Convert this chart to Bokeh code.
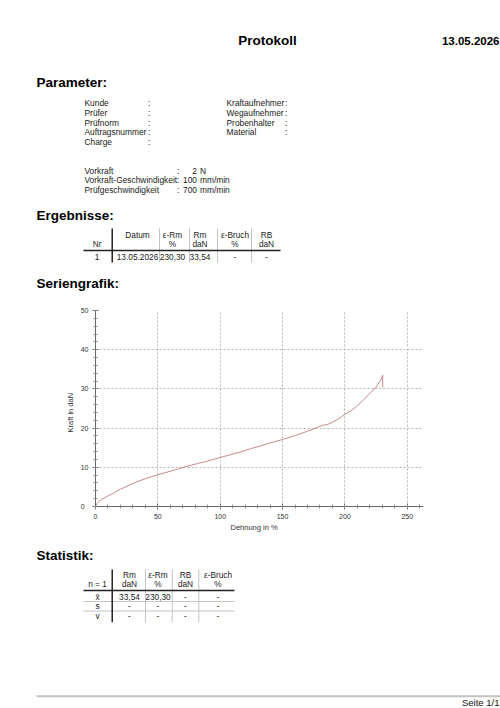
from bokeh.plotting import figure
from bokeh.layouts import column
from bokeh.models import Range1d, SingleIntervalTicker, Title
from bokeh.core.properties import value
from bokeh.embed import file_html
from bokeh.resources import INLINE

# ---------------- data ----------------
report_title = "Protokoll"
report_date = "13.05.2026"
section_titles = ["Parameter:", "Ergebnisse:", "Seriengrafik:", "Statistik:"]
param_left = ["Kunde", "Prüfer", "Prüfnorm", "Auftragsnummer", "Charge"]
param_right = ["Kraftaufnehmer", "Wegaufnehmer", "Probenhalter", "Material"]
setting_names = ["Vorkraft", "Vorkraft-Geschwindigkeit", "Prüfgeschwindigkeit"]
setting_numbers = ["2", "100", "700"]
setting_units = ["N", "mm/min", "mm/min"]

result_head1 = ["", "Datum", "ε-Rm", "Rm", "ε-Bruch", "RB"]
result_head2 = ["Nr", "", "%", "daN", "%", "daN"]
result_row = ["1", "13.05.2026", "230,30", "33,54", "-", "-"]

stat_head1 = ["", "Rm", "ε-Rm", "RB", "ε-Bruch"]
stat_head2 = ["n = 1", "daN", "%", "daN", "%"]
stat_rows = [
    ["x\u0304", "33,54", "230,30", "-", "-"],
    ["s", "-", "-", "-", "-"],
    ["v", "-", "-", "-", "-"],
]
footer_text = "Seite 1/1"

# curve: Dehnung in % vs Kraft in daN
strain = [0, 1, 2.5, 5, 10, 15, 20, 30, 40, 50, 60, 75, 90, 100, 115, 125, 140,
          150, 160, 170, 178, 183, 186, 190, 195, 200, 205, 210, 215, 218, 222,
          224.5, 227, 229, 230.3, 230.3]
force = [0, 0.7, 1.2, 1.8, 2.7, 3.5, 4.4, 5.9, 7.1, 8.1, 9.0, 10.4, 11.6, 12.5,
         13.8, 14.8, 16.2, 17.1, 18.1, 19.2, 20.2, 20.8, 20.9, 21.5, 22.4, 23.5,
         24.5, 25.7, 27.2, 28.2, 29.5, 30.3, 31.4, 32.5, 33.54, 30.4]
x_max = 263
y_max = 50
x_tick_step = 50
y_tick_step = 10
x_title = "Dehnung in %"
y_title = "Kraft in daN"

FONT = value("Liberation Sans")
W = 500


def page_fig(top, bottom):
    p = figure(width=W, height=bottom - top, x_range=Range1d(0, W),
               y_range=Range1d(bottom, top), x_axis_type=None, y_axis_type=None,
               output_backend="svg", toolbar_location=None, min_border=0,
               frame_align=False)
    p.outline_line_color = None
    p.grid.visible = False
    return p


def txt(p, xs, ys, texts, size, align="left", bold=False, color="#1a1a1a"):
    p.text(x=xs, y=ys, text=texts, text_font=FONT, text_font_size=f"{size}px",
           text_align=align, text_baseline="middle",
           text_font_style="bold" if bold else "normal", text_color=color)


# ---------------- header part ----------------
pa = page_fig(0, 296)
txt(pa, [267], [40], [report_title], 13.5, "center", True, "#000")
txt(pa, [499], [40.5], [report_date], 11.5, "right", True, "#000")
txt(pa, [36], [81.5], [section_titles[0]], 13.5, "left", True, "#000")

row0, dy = 102.5, 9.75
ys_l = [row0 + i * dy for i in range(len(param_left))]
txt(pa, [84] * len(param_left), ys_l, param_left, 8.4)
txt(pa, [147.5] * len(param_left), ys_l, [":"] * len(param_left), 8.4)
ys_r = [row0 + i * dy for i in range(len(param_right))]
txt(pa, [226] * len(param_right), ys_r, param_right, 8.4)
txt(pa, [284.5] * len(param_right), ys_r, [":"] * len(param_right), 8.4)

ys_s = [170, 179.7, 189.4]
txt(pa, [84] * 3, ys_s, setting_names, 8.4)
txt(pa, [176.5] * 3, ys_s, [":"] * 3, 8.4)
txt(pa, [196.5] * 3, ys_s, setting_numbers, 8.4, "right")
txt(pa, [199.5] * 3, ys_s, setting_units, 8.4)

txt(pa, [36], [214.5], [section_titles[1]], 13.5, "left", True, "#000")
res_cx = [96.6, 137, 172, 199.5, 234.5, 266]
txt(pa, res_cx, [234] * 6, result_head1, 8.3, "center")
txt(pa, res_cx, [243.5] * 6, result_head2, 8.3, "center")
txt(pa, res_cx, [256.7] * 6, result_row, 8.3, "center")
pa.segment(x0=[159, 189, 217, 251], x1=[159, 189, 217, 251], y0=[228] * 4,
           y1=[262] * 4, line_color="#c4c4c4", line_width=1)
pa.segment(x0=[111.7], x1=[111.7], y0=[228], y1=[262], line_color="#000",
           line_width=1.3)
pa.segment(x0=[83], x1=[280], y0=[250], y1=[250], line_color="#222",
           line_width=1.6)
txt(pa, [36], [283], [section_titles[2]], 13.5, "left", True, "#000")

# ---------------- chart ----------------
pb = figure(width=W, height=244, x_range=Range1d(0, x_max),
            y_range=Range1d(0, y_max), output_backend="svg",
            toolbar_location=None, min_border_left=95, min_border_right=77,
            min_border_top=14, min_border_bottom=34, frame_align=False)
pb.outline_line_color = None
pb.line(strain, force, line_color="#c48a8a", line_width=1)
pb.xaxis.ticker = SingleIntervalTicker(interval=x_tick_step, num_minor_ticks=5)
pb.yaxis.ticker = SingleIntervalTicker(interval=y_tick_step, num_minor_ticks=5)
pb.yaxis.major_label_overrides = {0: "0\u2007"}
for ax in (pb.xaxis, pb.yaxis):
    ax.axis_line_color = "#666"
    ax.major_tick_line_color = "#666"
    ax.minor_tick_line_color = "#888"
    ax.major_tick_in = 3
    ax.major_tick_out = 3
    ax.minor_tick_in = 2
    ax.minor_tick_out = 2
    ax.major_label_text_font = "Liberation Sans"
    ax.major_label_text_font_size = "7px"
    ax.major_label_text_color = "#333"
    ax.major_label_standoff = 4
pb.grid.grid_line_color = "#b4b4b4"
pb.grid.grid_line_dash = "2 2"
pb.grid.grid_line_width = 1
pb.add_layout(Title(text=x_title, align="left", offset=135, standoff=2,
                    vertical_align="top", text_font="Liberation Sans",
                    text_font_size="7.5px", text_font_style="normal",
                    text_color="#333"), "below")
pb.add_layout(Title(text=y_title, align="left", offset=74, standoff=6,
                    vertical_align="bottom", text_font="Liberation Sans",
                    text_font_size="7.5px", text_font_style="normal",
                    text_color="#333"), "left")

# ---------------- statistics + footer ----------------
pc = page_fig(540, 708)
txt(pc, [36], [554.5], [section_titles[3]], 13.5, "left", True, "#000")
st_cx = [97, 129, 157.5, 185, 217.5]
txt(pc, st_cx, [574] * 5, stat_head1, 8.3, "center")
txt(pc, st_cx, [583.5] * 5, stat_head2, 8.3, "center")
for i, row in enumerate(stat_rows):
    txt(pc, st_cx, [596.5 + i * 9.3] * 5, row, 8.3, "center")
pc.segment(x0=[83, 83], x1=[234, 234], y0=[601, 610.5], y1=[601, 610.5],
           line_color="#c4c4c4", line_width=1)
pc.segment(x0=[145, 171.7, 198.3], x1=[145, 171.7, 198.3], y0=[569] * 3,
           y1=[621.7] * 3, line_color="#c4c4c4", line_width=1)
pc.segment(x0=[111.7], x1=[111.7], y0=[569], y1=[621.7], line_color="#000",
           line_width=1.3)
pc.segment(x0=[83], x1=[234], y0=[590], y1=[590], line_color="#222",
           line_width=1.6)
pc.segment(x0=[36], x1=[500], y0=[695.7], y1=[695.7], line_color="#c2c2c2",
           line_width=2)
txt(pc, [499], [702.3], [footer_text], 9.5, "right", False, "#111")

page = column(pa, pb, pc, spacing=0)
open("out.html", "w").write(file_html(page, INLINE))
